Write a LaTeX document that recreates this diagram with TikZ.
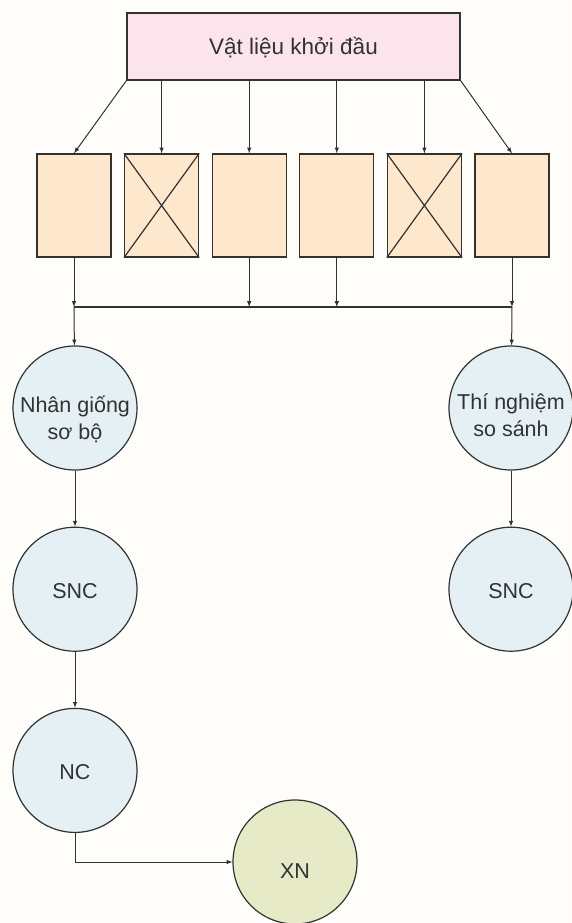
\documentclass[tikz,border=0pt]{standalone}
\usepackage{fontspec}
\setmainfont{Liberation Sans}
\usetikzlibrary{positioning}

\definecolor{pinkfill}{RGB}{251,228,235}
\definecolor{peachfill}{RGB}{253,231,205}
\definecolor{bluefill}{RGB}{229,240,245}
\definecolor{olivefill}{RGB}{231,234,198}
\definecolor{linegray}{RGB}{50,50,50}
\definecolor{paper}{RGB}{254,253,250}

\newcommand{\lowtext}[2][10pt]{\raisebox{-#1}[\height][\depth]{\begin{tabular}{@{}c@{}}#2\end{tabular}}}

\begin{document}
\begin{tikzpicture}[x=1pt, y=-1pt, >=latex, font=\fontsize{21.5}{27}\selectfont,
	every node/.style={text=linegray},
	linebox/.style={draw=linegray, line width=1.3pt, fill=peachfill, minimum width=74pt, minimum height=103pt, inner sep=0pt},
	stage/.style={circle, draw=linegray, line width=1.2pt, fill=bluefill, minimum size=124pt, inner sep=0pt, align=center},
	link/.style={->, draw=linegray, line width=1pt}]
			\fill[paper] (0,0) rectangle (571,923);
			\useasboundingbox (0,0) rectangle (571,923);
			\node[draw=linegray, line width=1.3pt, fill=pinkfill, minimum width=333pt, minimum height=67pt, font=\fontsize{22.5}{27}\selectfont] (Material) at (293.5,46.5) {\lowtext[3pt]{Vật liệu khởi đầu}};
			\foreach \x [count=\i] in {74,161.6,249.2,336.8,424.4,512}
				\node[linebox] (Line\i) at (\x,205.5) {};
			\foreach \i in {2,5}
				\draw[linegray, line width=1.2pt] (Line\i.north west) -- (Line\i.south east) (Line\i.south west) -- (Line\i.north east);
			\draw[link] (Material.south west) -- (Line1.north);
			\draw[link] (Material.south east) -- (Line6.north);
			\foreach \i in {2,...,5}
				\draw[link] (Line\i.north |- Material.south) -- (Line\i.north);
			\coordinate (BusLeft) at (74,307);
			\coordinate (BusRight) at (512,307);
			\draw[linegray, line width=1.2pt] (BusLeft) -- (BusRight);
			\draw[link] (Line1.south) -- (BusLeft);
			\draw[link] (Line6.south) -- (BusRight);
			\foreach \i in {3,4}
				\draw[link] (Line\i.south) -- (Line\i.south |- BusLeft);
			\node[stage] (Breeding) at (75,408) {\lowtext[13pt]{Nhân giống\\sơ bộ}};
			\node[stage] (Compare) at (511,408) {\lowtext[10pt]{Thí nghiệm\\so sánh}};
			\node[stage, below=56pt of Breeding] (SNCLeft) {\lowtext[4pt]{SNC}};
			\node[stage, below=56pt of Compare] (SNCRight) {\lowtext[4pt]{SNC}};
			\node[stage, below=56pt of SNCLeft] (NC) {\lowtext[4pt]{NC}};
			\node[stage, fill=olivefill] (XN) at (295,862) {\lowtext[11pt]{XN}};
			\draw[link] (BusLeft) -- (Breeding);
			\draw[link] (BusRight) -- (Compare);
			\draw[link] (Breeding) -- (SNCLeft);
			\draw[link] (Compare) -- (SNCRight);
			\draw[link] (SNCLeft) -- (NC);
			\draw[link] (NC.south) |- (XN.west);
		\end{tikzpicture}
\end{document}
